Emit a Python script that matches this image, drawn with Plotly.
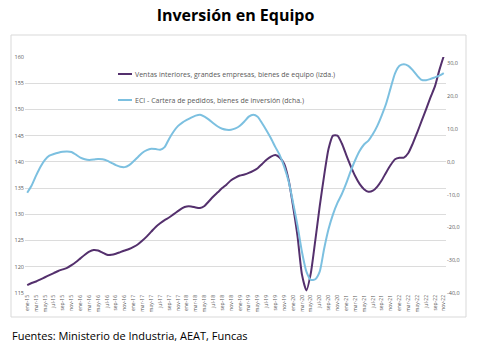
import plotly.graph_objects as go

meses = ["ene", "feb", "mar", "abr", "may", "jun", "jul", "ago", "sep", "oct", "nov", "dic"]
anios = ["15", "16", "17", "18", "19", "20", "21", "22"]
fechas = [f"{m}-{a}" for a in anios for m in meses][:95]  # ene-15 .. nov-22
etiquetas = fechas[::2]

ventas = [
    116.5, 116.9, 117.2, 117.6, 118.0, 118.4, 118.8, 119.2, 119.5, 119.8,
    120.3, 120.9, 121.6, 122.3, 122.9, 123.2, 123.1, 122.7, 122.3, 122.3,
    122.5, 122.8, 123.1, 123.4, 123.8, 124.3, 125.0, 125.8, 126.7, 127.6,
    128.3, 128.9, 129.4, 130.0, 130.6, 131.2, 131.5, 131.5, 131.3, 131.2,
    131.6, 132.5, 133.4, 134.2, 135.0, 135.7, 136.5, 137.0, 137.4, 137.6,
    137.9, 138.3, 138.8, 139.6, 140.4, 141.0, 141.3, 140.8, 139.6, 136.5,
    131.5, 125.8, 118.5, 115.5, 118.8, 125.0, 131.5, 137.4, 142.5, 145.0,
    145.0, 143.5, 141.3, 139.2, 137.3, 135.8, 134.8, 134.3, 134.5, 135.3,
    136.5, 138.0, 139.4, 140.5, 140.8, 140.8, 141.7, 143.5, 145.6, 147.8,
    150.0, 152.3, 154.4, 157.5, 160.2,
]

eci = [
    -9.4, -7.2, -4.2, -1.5, 0.6, 1.9, 2.4, 2.8, 3.1, 3.2,
    3.0, 2.2, 1.3, 0.8, 0.6, 0.7, 0.9, 0.8, 0.4, -0.3,
    -1.0, -1.5, -1.6, -1.0, 0.2, 1.5, 2.8, 3.6, 4.0, 3.9,
    3.7, 4.5, 7.0, 9.2, 10.9, 12.0, 12.8, 13.5, 14.1, 14.4,
    13.8, 12.9, 11.8, 10.8, 10.1, 9.8, 9.8, 10.2, 11.0, 12.3,
    13.8, 14.4, 13.8, 11.8, 9.6, 7.2, 4.5, 2.0, -1.5, -6.0,
    -12.5, -19.5, -27.5, -33.5, -36.0, -35.8, -33.5, -26.5, -20.5, -16.0,
    -12.5, -9.8, -6.5, -2.8, 0.5, 3.3, 5.3, 6.5, 8.5, 11.0,
    14.2, 17.8, 22.5, 27.0, 29.3, 29.8, 29.3, 28.0, 26.3, 25.0,
    24.9, 25.3, 25.8, 26.3, 27.1,
]

nombres = [
    "Ventas interiores, grandes empresas, bienes de equipo (izda.)",
    "ECI - Cartera de pedidos, bienes de inversión (dcha.)",
]
colores = ["#54306d", "#7cc0e0"]

izq_ticks = [115, 120, 125, 130, 135, 140, 145, 150, 155, 160]
der_ticks = [-40, -30, -20, -10, 0, 10, 20, 30]
der_text = [f"{v},0" for v in der_ticks]

W, H = 479, 351
ml, mr, mt, mb = 25, 33, 57, 58

fig = go.Figure()
fig.add_trace(go.Scatter(
    x=fechas, y=ventas, mode="lines",
    line=dict(color=colores[0], width=2, shape="spline", smoothing=0.6),
    name=nombres[0], showlegend=False,
))
fig.add_trace(go.Scatter(
    x=fechas, y=eci, mode="lines",
    line=dict(color=colores[1], width=2, shape="spline", smoothing=0.6),
    name=nombres[1], yaxis="y2", showlegend=False,
))

pw = W - ml - mr
ph = H - mt - mb
def px(x):
    return (x - ml) / pw
def py(y):
    return (H - mb - y) / ph

fig.add_shape(type="rect", xref="paper", yref="paper",
              x0=px(11), x1=px(466), y0=py(317), y1=py(35),
              line=dict(color="#d9d9d9", width=1), fillcolor="rgba(0,0,0,0)", layer="below")

legfont = dict(family="Open Sans, Noto Sans, sans-serif", size=7, color="#595959")
for nombre, color, yy in zip(nombres, colores, [74, 100]):
    fig.add_shape(type="line", xref="paper", yref="paper",
                  x0=px(118), x1=px(132), y0=py(yy), y1=py(yy),
                  line=dict(color=color, width=2))
    fig.add_annotation(text=nombre, xref="paper", yref="paper", x=px(133), y=py(yy),
                       xanchor="left", yanchor="middle", showarrow=False, font=legfont)

fig.update_layout(
    width=W, height=H,
    margin=dict(l=ml, r=mr, t=mt, b=mb),
    paper_bgcolor="white", plot_bgcolor="white",
    showlegend=False,
    title=dict(text="<b>Inversión en Equipo</b>", x=0.5, xref="paper", xanchor="center",
               y=1 - 15 / H, yref="container", yanchor="middle",
               font=dict(family="Open Sans, Noto Sans, sans-serif", size=16, color="black")),
    xaxis=dict(type="category", range=[-0.5, 94.5], tickmode="array", tickvals=etiquetas, ticktext=etiquetas,
               tickangle=-90, tickfont=dict(family="Open Sans, sans-serif", size=5, color="#595959"),
               showgrid=False, showline=False, ticks="", zeroline=False),
    yaxis=dict(range=[115, 160], tickvals=izq_ticks, ticktext=[str(v) for v in izq_ticks],
               tickfont=dict(family="Open Sans, sans-serif", size=5.5, color="#595959"),
               showgrid=True, gridcolor="#dcdcdc", gridwidth=1, zeroline=False, showline=False, ticks=""),
    yaxis2=dict(range=[-40, 32], overlaying="y", side="right", tickvals=der_ticks, ticktext=der_text,
                tickfont=dict(family="Open Sans, sans-serif", size=5.5, color="#595959"),
                showgrid=False, zeroline=False, showline=False, ticks=""),
)

fig.add_annotation(text="Fuentes: Ministerio de Industria, AEAT, Funcas", xref="paper", yref="paper",
                   x=px(10), y=py(335), xanchor="left", yanchor="middle", showarrow=False,
                   font=dict(family="Open Sans, Noto Sans, sans-serif", size=11, color="black"))

fig.write_html("out.html")
